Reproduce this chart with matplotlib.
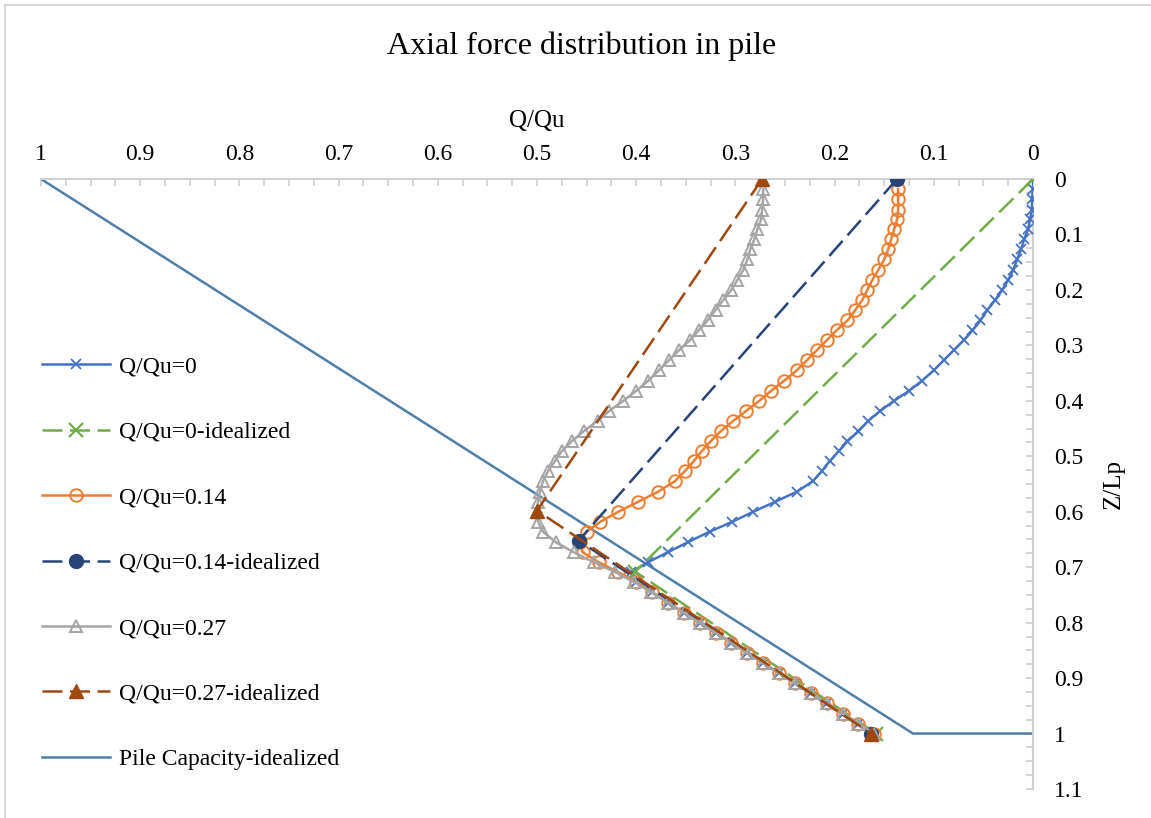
import matplotlib
matplotlib.use("Agg")
import matplotlib.pyplot as plt
import numpy as np
from matplotlib.ticker import MultipleLocator
from matplotlib.patches import Rectangle

plt.rcParams['font.family'] = ['Liberation Serif', 'DejaVu Serif']

# ---------------- data ----------------
z_meas = [0, 0.018, 0.036, 0.055, 0.073, 0.091, 0.109, 0.127, 0.145, 0.164,
          0.182, 0.2, 0.218, 0.236, 0.255, 0.273, 0.291, 0.309, 0.327, 0.345,
          0.364, 0.382, 0.4, 0.418, 0.436, 0.455, 0.473, 0.491, 0.509, 0.527,
          0.545, 0.564, 0.582, 0.6, 0.618, 0.636, 0.655, 0.673, 0.691, 0.709,
          0.727, 0.745, 0.764, 0.782, 0.8, 0.818, 0.836, 0.855, 0.873, 0.891,
          0.909, 0.927, 0.945, 0.964, 0.982, 1.0]

q_0 = [0, 0, 0.001, 0.001, 0.003, 0.005, 0.009, 0.012, 0.016, 0.020,
       0.025, 0.031, 0.038, 0.046, 0.053, 0.061, 0.070, 0.080, 0.090, 0.100,
       0.112, 0.125, 0.140, 0.154, 0.166, 0.176, 0.187, 0.196, 0.205, 0.213,
       0.222, 0.238, 0.260, 0.282, 0.303, 0.326, 0.348, 0.368, 0.388, 0.405,
       0.400, 0.384, 0.368, 0.352, 0.336, 0.320, 0.304, 0.288, 0.272, 0.256,
       0.240, 0.224, 0.208, 0.192, 0.176, 0.160]

q_014 = [None, 0.136, 0.136, 0.136, 0.137, 0.140, 0.143, 0.146, 0.150, 0.156,
         0.162, 0.167, 0.172, 0.179, 0.187, 0.198, 0.208, 0.218, 0.228, 0.238,
         0.251, 0.264, 0.276, 0.289, 0.302, 0.315, 0.325, 0.334, 0.342, 0.351,
         0.361, 0.378, 0.398, 0.418, 0.436, 0.450, 0.457, 0.454, 0.438, 0.418,
         0.400, 0.384, 0.368, 0.352, 0.336, 0.320, 0.304, 0.288, 0.272, 0.256,
         0.240, 0.224, 0.208, 0.192, 0.176, 0.160]

q_027 = [None, 0.272, 0.272, 0.273, 0.274, 0.278, 0.281, 0.285, 0.288, 0.292,
         0.298, 0.304, 0.312, 0.320, 0.328, 0.337, 0.346, 0.357, 0.367, 0.377,
         0.388, 0.400, 0.413, 0.427, 0.439, 0.453, 0.465, 0.475, 0.482, 0.489,
         0.494, 0.497, 0.499, 0.500, 0.499, 0.494, 0.481, 0.463, 0.443, 0.421,
         0.402, 0.385, 0.368, 0.352, 0.336, 0.320, 0.304, 0.288, 0.272, 0.256,
         0.240, 0.224, 0.208, 0.192, 0.176, 0.160]

q_0_ideal = [0, 0.401, 0.158]
z_0_ideal = [0, 0.708, 1.0]
q_014_ideal = [0.137, 0.458, 0.163]
z_014_ideal = [0, 0.652, 1.0]
q_027_ideal = [0.273, 0.500, 0.163]
z_027_ideal = [0, 0.598, 1.0]
q_cap = [1.0, 0.121, 0.0]
z_cap = [0, 1.0, 1.0]

labels = ["Q/Qu=0", "Q/Qu=0-idealized", "Q/Qu=0.14", "Q/Qu=0.14-idealized",
          "Q/Qu=0.27", "Q/Qu=0.27-idealized", "Pile Capacity-idealized"]

x_ticks = [1, 0.9, 0.8, 0.7, 0.6, 0.5, 0.4, 0.3, 0.2, 0.1, 0]
x_ticklabels = ["1", "0.9", "0.8", "0.7", "0.6", "0.5", "0.4", "0.3", "0.2", "0.1", "0"]
y_ticks = [0, 0.1, 0.2, 0.3, 0.4, 0.5, 0.6, 0.7, 0.8, 0.9, 1.0, 1.1]
y_ticklabels = ["0", "0.1", "0.2", "0.3", "0.4", "0.5", "0.6", "0.7", "0.8", "0.9", "1", "1.1"]

# ---------------- figure ----------------
W, H = 1151, 818
fig = plt.figure(figsize=(W / 100, H / 100), dpi=100)
ax = fig.add_axes([41 / W, 1 - 789 / H, (1033 - 41) / W, (789 - 179) / H])

def arr(v):
    return np.array([np.nan if a is None else a for a in v], dtype=float)

lw = 1.8
dash = (8, 3)

ax.plot(arr(q_0), z_meas, color="#4472C4", lw=lw, marker="x", ms=7.5, mew=1.3,
        label=labels[0], zorder=3)
ax.plot(q_0_ideal, z_0_ideal, color="#70AD47", lw=lw, dashes=dash, marker="x",
        ms=10, mew=1.6, label=labels[1], zorder=3)
ax.plot(arr(q_014), z_meas, color="#ED7D31", lw=lw, marker="o", ms=9,
        mfc="none", mew=1.4, label=labels[2], zorder=3)
ax.plot(q_014_ideal, z_014_ideal, color="#264478", lw=lw, dashes=dash, marker="o",
        ms=10, label=labels[3], zorder=3)
ax.plot(arr(q_027), z_meas, color="#A5A5A5", lw=lw, marker="^", ms=9,
        mfc="none", mew=1.4, label=labels[4], zorder=3)
ax.plot(q_027_ideal, z_027_ideal, color="#9E480E", lw=lw, dashes=dash, marker="^",
        ms=10, label=labels[5], zorder=3)
ax.plot(q_cap, z_cap, color="#4E7FA8", lw=lw, label=labels[6], zorder=2)

ax.set_xlim(1, 0)
ax.set_ylim(1.1, 0)

ax.xaxis.tick_top()
ax.xaxis.set_label_position("top")
ax.yaxis.tick_right()
ax.yaxis.set_label_position("right")

ax.set_xticks(x_ticks)
ax.set_xticklabels(x_ticklabels)
ax.set_yticks(y_ticks)
ax.set_yticklabels(y_ticklabels)
ax.xaxis.set_minor_locator(MultipleLocator(0.025))
ax.yaxis.set_minor_locator(MultipleLocator(0.025))

grey = "#D0D0D0"
ax.tick_params(axis="both", which="both", direction="in", color=grey, width=1.2,
               length=5, labelsize=17, labelcolor="black")
ax.tick_params(axis="x", which="major", pad=10)
ax.tick_params(axis="y", which="major", pad=15)

for s in ["left", "bottom"]:
    ax.spines[s].set_visible(False)
for s in ["top", "right"]:
    ax.spines[s].set_color(grey)
    ax.spines[s].set_linewidth(1.5)

ax.set_xlabel("Q/Qu", fontsize=18, labelpad=12)
ax.set_ylabel("Z/Lp", fontsize=18, labelpad=14, rotation=90)

fig.text(582 / W, 1 - 46 / H, "Axial force distribution in pile", ha="center",
         va="center", fontsize=23)

leg = ax.legend(loc="upper left", bbox_to_anchor=(42 / W, 1 - 356 / H),
                bbox_transform=fig.transFigure, frameon=False, fontsize=17,
                labelspacing=1.86, handlelength=2.9, handletextpad=0.35,
                borderpad=0, borderaxespad=0)

# chart-area border (top/left visible)
fig.patches.append(Rectangle((5 / W, -0.1), 1.2, 1 - 5 / H + 0.1, transform=fig.transFigure,
                             fill=False, edgecolor="#D9D9D9", lw=1.5))

fig.savefig("out.png", dpi=100)
